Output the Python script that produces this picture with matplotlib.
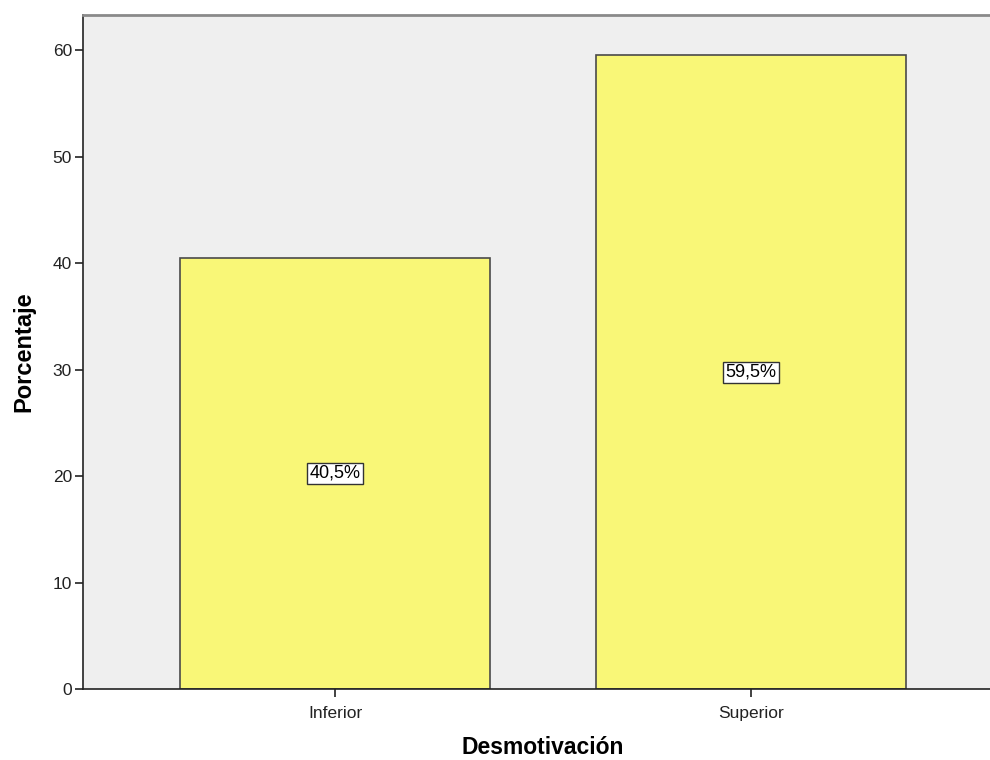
import matplotlib
matplotlib.use("Agg")
import matplotlib.pyplot as plt

categories = ["Inferior", "Superior"]
percentages = [40.5, 59.5]
bar_labels = ["40,5%", "59,5%"]
y_ticks = [0, 10, 20, 30, 40, 50, 60]

plt.rcParams["font.family"] = ["Liberation Sans", "DejaVu Sans"]

fig = plt.figure(figsize=(9.9, 7.6), dpi=100)
# axes extends slightly past the right edge of the figure, like the original
left, bottom = 83 / 990, (760 - 689) / 760
width, height = (1003 - 83) / 990, (689 - 15) / 760
ax = fig.add_axes([left, bottom, width, height])
ax.set_facecolor("#efefef")

x = range(len(categories))
ax.bar(x, percentages, width=0.745, color="#f9f777", edgecolor="#4a4a4a", linewidth=1.2, zorder=2)

for xi, val, lab in zip(x, percentages, bar_labels):
    ax.text(xi, val / 2, lab, ha="center", va="center", fontsize=13, zorder=3,
            bbox=dict(boxstyle="square,pad=0.12", facecolor="white", edgecolor="#333333", linewidth=1.0))

ax.set_xlim(-0.606, 1.606)
ax.set_ylim(0, 63.3)
ax.set_xticks(list(x))
ax.set_xticklabels(categories)
ax.set_yticks(y_ticks)
ax.tick_params(axis="both", direction="out", length=6, width=1.2, colors="#222222", labelsize=12.5)
ax.tick_params(axis="x", pad=6)
ax.tick_params(axis="y", pad=2)

ax.spines["right"].set_visible(False)
ax.spines["top"].set_color("#8a8a8a")
ax.spines["top"].set_linewidth(2)
for side in ["left", "bottom"]:
    ax.spines[side].set_color("#222222")
    ax.spines[side].set_linewidth(1.2)

ax.set_xlabel("Desmotivación", fontsize=16.5, fontweight="bold", labelpad=11)
ax.set_ylabel("Porcentaje", fontsize=17, fontweight="bold", labelpad=12)

fig.savefig("out.png", dpi=100)
plt.close(fig)
